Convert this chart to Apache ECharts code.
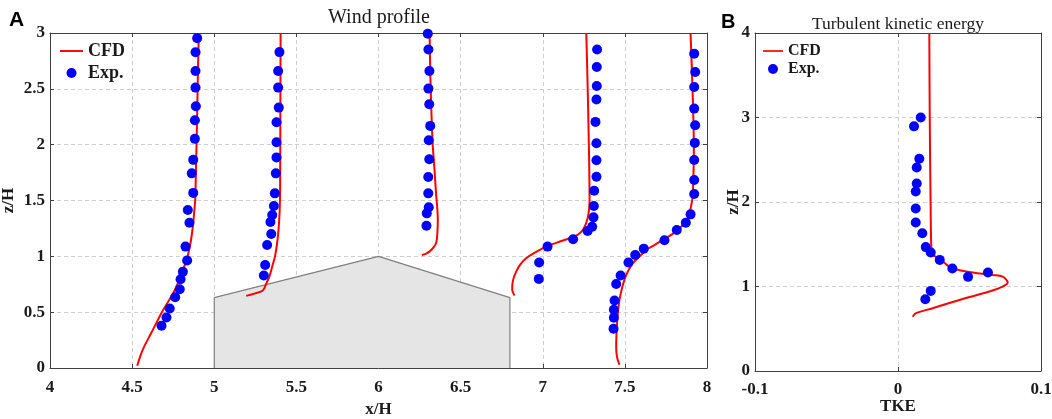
<!DOCTYPE html>
<html>
<head>
<meta charset="utf-8">
<script src="https://cdn.jsdelivr.net/npm/echarts@6/dist/echarts.min.js"></script>
<style>
html,body{margin:0;padding:0;background:#fff;}
#chart{width:1052px;height:419px;}
</style>
</head>
<body>
<div id="chart"></div>
<script>
// ---------- tick labels ----------
const windXTicks = [4, 4.5, 5, 5.5, 6, 6.5, 7, 7.5, 8];
const windZTicks = [0, 0.5, 1, 1.5, 2, 2.5, 3];
const tkeXTicks = [-0.1, 0, 0.1];
const tkeZTicks = [0, 1, 2, 3, 4];

// ---------- building outline (x/H, z/H) ----------
const building = [[5, 0], [5, 0.63], [6, 1.0], [6.8, 0.63], [6.8, 0]];

// ---------- CFD wind profiles (x/H, z/H) ----------
const cfd1 = [[4.531,0.02],[4.565,0.164],[4.616,0.313],[4.650,0.41],[4.681,0.50],[4.722,0.60],[4.760,0.70],[4.790,0.80],[4.815,0.90],[4.838,1.0],[4.853,1.10],[4.864,1.20],[4.872,1.30],[4.878,1.40],[4.884,1.504],[4.889,1.8],[4.895,2.2],[4.900,2.6],[4.906,3.0]];
const cfd2 = [[5.194,0.646],[5.25,0.668],[5.296,0.694],[5.318,0.76],[5.336,0.82],[5.355,0.92],[5.370,1.0],[5.383,1.12],[5.392,1.25],[5.398,1.40],[5.401,1.6],[5.402,2.0],[5.403,2.5],[5.404,3.0]];
const cfd3 = [[6.264,1.012],[6.29,1.025],[6.31,1.042],[6.335,1.08],[6.351,1.12],[6.358,1.2],[6.361,1.325],[6.357,1.45],[6.351,1.55],[6.340,1.8],[6.330,2.0],[6.322,2.3],[6.316,2.6],[6.311,3.0]];
const cfd4 = [[6.828,0.649],[6.814,0.70],[6.818,0.78],[6.838,0.863],[6.865,0.93],[6.899,0.983],[6.96,1.04],[7.021,1.087],[7.09,1.125],[7.163,1.162],[7.21,1.19],[7.244,1.236],[7.265,1.30],[7.279,1.385],[7.285,1.504],[7.283,1.8],[7.278,2.2],[7.272,2.6],[7.265,3.0]];
const cfd5 = [[7.467,0.029],[7.452,0.10],[7.447,0.193],[7.449,0.30],[7.455,0.45],[7.467,0.61],[7.48,0.70],[7.497,0.789],[7.52,0.87],[7.548,0.938],[7.59,1.0],[7.630,1.057],[7.68,1.10],[7.731,1.147],[7.80,1.21],[7.853,1.281],[7.880,1.33],[7.893,1.385],[7.910,1.504],[7.914,1.564],[7.920,1.951],[7.914,2.398],[7.900,2.994]];

// ---------- Experimental wind profiles (x/H, z/H) ----------
const exp1 = [[4.896,2.954],[4.886,2.828],[4.886,2.659],[4.886,2.511],[4.888,2.344],[4.882,2.218],[4.882,2.052],[4.872,1.864],[4.863,1.743],[4.872,1.568],[4.839,1.415],[4.849,1.301],[4.825,1.087],[4.835,0.962],[4.809,0.861],[4.795,0.795],[4.790,0.706],[4.762,0.634],[4.729,0.533],[4.709,0.452],[4.679,0.378]];
const exp2 = [[5.397,2.829],[5.389,2.659],[5.389,2.511],[5.393,2.332],[5.379,2.201],[5.379,2.022],[5.379,1.886],[5.375,1.743],[5.369,1.564],[5.363,1.450],[5.353,1.370],[5.342,1.307],[5.347,1.200],[5.322,1.102],[5.310,0.923],[5.302,0.828]];
const exp3 = [[6.300,2.994],[6.304,2.853],[6.310,2.659],[6.304,2.502],[6.309,2.362],[6.315,2.168],[6.306,2.040],[6.309,1.870],[6.303,1.710],[6.303,1.564],[6.306,1.439],[6.294,1.385],[6.292,1.274]];
const exp4 = [[7.331,2.853],[7.329,2.695],[7.329,2.525],[7.327,2.404],[7.321,2.204],[7.327,2.013],[7.327,1.861],[7.327,1.712],[7.313,1.587],[7.311,1.450],[7.309,1.349],[7.301,1.265],[7.273,1.227],[7.185,1.153],[7.029,1.087],[6.978,0.944],[6.976,0.798]];
const exp5 = [[7.922,2.815],[7.928,2.651],[7.922,2.517],[7.922,2.323],[7.928,2.174],[7.926,2.016],[7.922,1.862],[7.922,1.683],[7.922,1.558],[7.900,1.376],[7.871,1.301],[7.816,1.236],[7.741,1.144],[7.615,1.069],[7.563,1.012],[7.522,0.944],[7.474,0.828],[7.447,0.753],[7.437,0.604],[7.433,0.521],[7.433,0.450],[7.431,0.351]];

// ---------- TKE profile (TKE, z/H) ----------
const tkeCfd = [[0.0103,0.643],[0.0126,0.684],[0.0243,0.743],[0.0429,0.841],[0.0639,0.940],[0.0732,0.999],[0.0767,1.046],[0.0732,1.117],[0.0662,1.137],[0.0476,1.177],[0.0359,1.236],[0.0289,1.335],[0.0235,1.394],[0.0228,2.0],[0.0222,3.0],[0.0219,4.0]];
const tkeExp = [[0.0159,3.001],[0.0112,2.895],[0.0149,2.512],[0.0131,2.409],[0.0131,2.219],[0.0124,2.124],[0.0124,1.923],[0.0124,1.757],[0.0170,1.631],[0.0194,1.466],[0.0229,1.402],[0.0292,1.315],[0.0380,1.212],[0.0490,1.114],[0.0629,1.165],[0.0229,0.948],[0.0191,0.849]];

const SERIF = "'Liberation Serif','Times New Roman',serif";
const AXC = '#404040';
const tickFont = {fontFamily: SERIF, fontWeight: 'bold', fontSize: 17, color: '#1a1a1a'};

function mainAxis(ticks, extra) {
  return Object.assign({
    type: 'value',
    min: ticks[0], max: ticks[ticks.length - 1], interval: ticks[1] - ticks[0],
    axisLine: {show: true, onZero: false, lineStyle: {color: AXC, width: 1}},
    axisTick: {show: true, inside: true, length: 4, lineStyle: {color: AXC}},
    splitLine: {show: true, lineStyle: {color: '#cfcfcf', type: [4, 3], width: 1}},
    axisLabel: Object.assign({}, tickFont),
    nameMoveOverlap: false,
    nameTextStyle: {fontFamily: SERIF, fontWeight: 'bold', fontSize: 17, color: '#1a1a1a'}
  }, extra);
}
function mirrorAxis(ticks, extra) {
  return Object.assign({
    type: 'value',
    min: ticks[0], max: ticks[ticks.length - 1], interval: ticks[1] - ticks[0],
    axisLine: {show: true, onZero: false, lineStyle: {color: AXC, width: 1}},
    axisTick: {show: true, inside: true, length: 4, lineStyle: {color: AXC}},
    splitLine: {show: false},
    axisLabel: {show: false}
  }, extra);
}

const cfdStyle = {color: '#ff0000', width: 2};
function cfdSeries(data, xi, yi) {
  return {name: 'CFD', type: 'line', data: data, xAxisIndex: xi, yAxisIndex: yi,
    symbol: 'none', smooth: 0.35, lineStyle: cfdStyle, itemStyle: {color: '#ff0000'}, z: 3, silent: true};
}
function expSeries(data, xi, yi) {
  return {name: 'Exp.', type: 'scatter', data: data, xAxisIndex: xi, yAxisIndex: yi,
    symbol: 'circle', symbolSize: 10, itemStyle: {color: '#0000ff', opacity: 1}, z: 4, silent: true};
}

// legend line icon: thin horizontal bar centred in a 10-unit tall box
const lineIcon = 'path://M0,0L0,0M0,4L24,4L24,6L0,6ZM0,10L0,10';
const legendData = [{name: 'CFD', icon: lineIcon}, {name: 'Exp.', icon: 'circle'}];

const chart = echarts.init(document.getElementById('chart'), null, {renderer: 'canvas'});
const option = {
  animation: false,
  backgroundColor: '#ffffff',
  grid: [
    {left: 50, top: 33, width: 657, height: 335, containLabel: false, outerBoundsMode: 'none'},
    {left: 755, top: 33, width: 286, height: 338, containLabel: false, outerBoundsMode: 'none'}
  ],
  xAxis: [
    mainAxis(windXTicks, {gridIndex: 0, position: 'bottom', name: 'x/H', nameLocation: 'middle', nameGap: 33,
      axisLabel: Object.assign({}, tickFont, {margin: 11})}),
    mainAxis(tkeXTicks, {gridIndex: 1, position: 'bottom', name: 'TKE', nameLocation: 'middle', nameGap: 27,
      axisLabel: Object.assign({}, tickFont, {margin: 10})}),
    mirrorAxis(windXTicks, {gridIndex: 0, position: 'top'}),
    mirrorAxis(tkeXTicks, {gridIndex: 1, position: 'top'})
  ],
  yAxis: [
    mainAxis(windZTicks, {gridIndex: 0, position: 'left', name: 'z/H', nameLocation: 'middle', nameGap: 33,
      axisLabel: Object.assign({}, tickFont, {margin: 5})}),
    mainAxis(tkeZTicks, {gridIndex: 1, position: 'left', name: 'z/H', nameLocation: 'middle', nameGap: 13,
      axisLabel: Object.assign({}, tickFont, {margin: 5})}),
    mirrorAxis(windZTicks, {gridIndex: 0, position: 'right'}),
    mirrorAxis(tkeZTicks, {gridIndex: 1, position: 'right'})
  ],
  legend: [
    {data: legendData, orient: 'vertical', left: 55, top: 37, itemWidth: 23, itemHeight: 10, itemGap: 4,
      selectedMode: false, textStyle: {fontFamily: SERIF, fontWeight: 'bold', fontSize: 18, color: '#1a1a1a'}},
    {data: legendData, orient: 'vertical', left: 758, top: 38, itemWidth: 20, itemHeight: 10, itemGap: 2,
      selectedMode: false, textStyle: {fontFamily: SERIF, fontWeight: 'bold', fontSize: 16, color: '#1a1a1a'}}
  ],
  graphic: [
    {type: 'text', x: 379, y: 18, style: {text: 'Wind profile', font: "20px 'Liberation Serif'", fill: '#1a1a1a', textAlign: 'center', textVerticalAlign: 'middle'}},
    {type: 'text', x: 898, y: 24, style: {text: 'Turbulent kinetic energy', font: "17.5px 'Liberation Serif'", fill: '#1a1a1a', textAlign: 'center', textVerticalAlign: 'middle'}},
    {type: 'text', x: 9, y: 20, style: {text: 'A', font: "bold 21px 'Liberation Sans'", fill: '#000', textAlign: 'left', textVerticalAlign: 'middle'}},
    {type: 'text', x: 721, y: 22, style: {text: 'B', font: "bold 20px 'Liberation Sans'", fill: '#000', textAlign: 'left', textVerticalAlign: 'middle'}}
  ],
  series: [
    {name: 'building', type: 'line', data: building, xAxisIndex: 0, yAxisIndex: 0, symbol: 'none',
      lineStyle: {color: '#808080', width: 1.2}, areaStyle: {color: '#e5e5e5', opacity: 1}, z: 2, silent: true},
    cfdSeries(cfd1, 0, 0), cfdSeries(cfd2, 0, 0), cfdSeries(cfd3, 0, 0), cfdSeries(cfd4, 0, 0), cfdSeries(cfd5, 0, 0),
    expSeries(exp1, 0, 0), expSeries(exp2, 0, 0), expSeries(exp3, 0, 0), expSeries(exp4, 0, 0), expSeries(exp5, 0, 0),
    cfdSeries(tkeCfd, 1, 1),
    expSeries(tkeExp, 1, 1)
  ]
};
chart.setOption(option);
</script>
</body>
</html>
